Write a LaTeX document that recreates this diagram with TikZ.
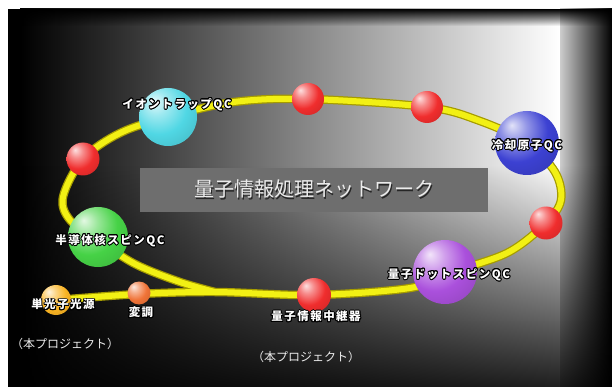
\documentclass[tikz,border=0pt]{standalone}
\usepackage{fontspec}
\newfontfamily\jp{Noto Sans CJK JP}
\newfontfamily\jpl{Noto Sans CJK JP}[LetterSpace=13]
\usepackage[copies]{contour}
\contourlength{0.9pt}
\usetikzlibrary{fadings}
\tikzfading[name=fadetop, top color=transparent!0, bottom color=transparent!100]
\tikzfading[name=fadebot, top color=transparent!100, bottom color=transparent!12]
\definecolor{ringyel}{RGB}{242,240,20}
\definecolor{ringedge}{RGB}{165,155,0}
\definecolor{cyanball}{RGB}{80,215,228}
\definecolor{blueball}{RGB}{60,65,210}
\definecolor{purpball}{RGB}{170,80,220}
\definecolor{greenball}{RGB}{70,210,70}
\definecolor{redball}{RGB}{240,45,45}
\definecolor{orangeball}{RGB}{250,180,35}
\definecolor{modball}{RGB}{240,115,55}
\colorlet{ballc}{red}
\pgfdeclareradialshading[ballc]{mysph}{\pgfqpoint{-12bp}{14bp}}{%
  color(0bp)=(ballc!15!white); color(10bp)=(ballc!55!white); color(24bp)=(ballc);
  color(38bp)=(ballc!88!black); color(52bp)=(ballc!65!black); color(70bp)=(ballc!50!black)}
\tikzset{
  sph/.style={circle, inner sep=0pt, /utils/exec={\colorlet{ballc}{#1}}, shade, shading=mysph},
  lbl/.style={text=white, font=\jpl\bfseries\fontsize{11.5}{13}\selectfont, inner sep=0pt},
  proj/.style={text=white!92!black, font=\jp\fontsize{12}{14}\selectfont, inner sep=0pt},
  titlebox/.style={fill=black!57, minimum width=348pt, minimum height=44pt, inner sep=0pt,
     text=white!92!black, font=\jp\fontsize{20}{22}\selectfont},
}
\begin{document}
\begin{tikzpicture}[x=1pt,y=-1pt]
\useasboundingbox (0,0) rectangle (612,387);
% background
\fill[white] (0,0) rectangle (612,387);
\fill[black] (8,9) rectangle (612,387);
\shade[left color=black, right color=white] (20,9) rectangle (560,387);
\shade[left color=white!80!black, right color=black] (560,9) rectangle (612,387);
\fill[black, path fading=fadetop] (8,9) rectangle (612,26);
\fill[black, path fading=fadebot] (8,165) rectangle (612,387);
\fill[black] (8,9) rectangle (16,387);
% ring
\def\ringpath{plot[smooth, tension=0.55] coordinates {(57,300) (139,294) (215,292) (314,295) (410,288) (445,274) (507,253) (546,223) (561,200) (555,172) (527,143) (480,121) (427,107) (308,99) (234,102) (168,117) (120,133) (83,159) (63,197) (70,220) (98,240) (135,264) (180,282) (215,292)}}
\draw[ringedge, line width=8.5pt, line join=round] \ringpath;
\draw[ringyel, line width=6pt, line join=round] \ringpath;
% spheres
\node[sph=cyanball, minimum size=58pt] (ion) at (168,117) {};
\node[sph=redball, minimum size=32pt] (r1) at (308,99) {};
\node[sph=redball, minimum size=32pt] (r2) at (427,107) {};
\node[sph=blueball, minimum size=64pt] (cold) at (527,143) {};
\node[sph=redball, minimum size=33pt] (r3) at (546,223) {};
\node[sph=purpball, minimum size=64pt] (qd) at (445,272) {};
\node[sph=redball, minimum size=34pt] (rep) at (314,295) {};
\node[sph=greenball, minimum size=60pt] (semi) at (98,237) {};
\node[sph=redball, minimum size=33pt] (r4) at (83,159) {};
\node[sph=orangeball, minimum size=30pt] (sps) at (56,300) {};
\node[sph=modball, minimum size=23pt] (mod) at (139,293) {};
% title
\node[titlebox] (title) at (314,190) {\rlap{\raisebox{-1.3pt}{\kern1.3pt\color{black!85}量子情報処理ネットワーク}}量子情報処理ネットワーク};
% labels
\node[lbl] (lion) at (177,105) {\contour{black}{イオントラップQC}};
\node[lbl] (lcold) at (527,146) {\contour{black}{冷却原子QC}};
\node[lbl] (lsemi) at (110,241) {\contour{black}{半導体核スピンQC}};
\node[lbl] (lqd) at (449,275) {\contour{black}{量子ドットスピンQC}};
\node[lbl] (lsps) at (63,305) {\contour{black}{単光子光源}};
\node[lbl] (lmod) at (141,313) {\contour{black}{変調}};
\node[lbl] (lrep) at (316,317) {\contour{black}{量子情報中継器}};
\node[proj] (p1) at (65,344) {（本プロジェクト）};
\node[proj] (p2) at (306,357) {（本プロジェクト）};
\end{tikzpicture}
\end{document}
